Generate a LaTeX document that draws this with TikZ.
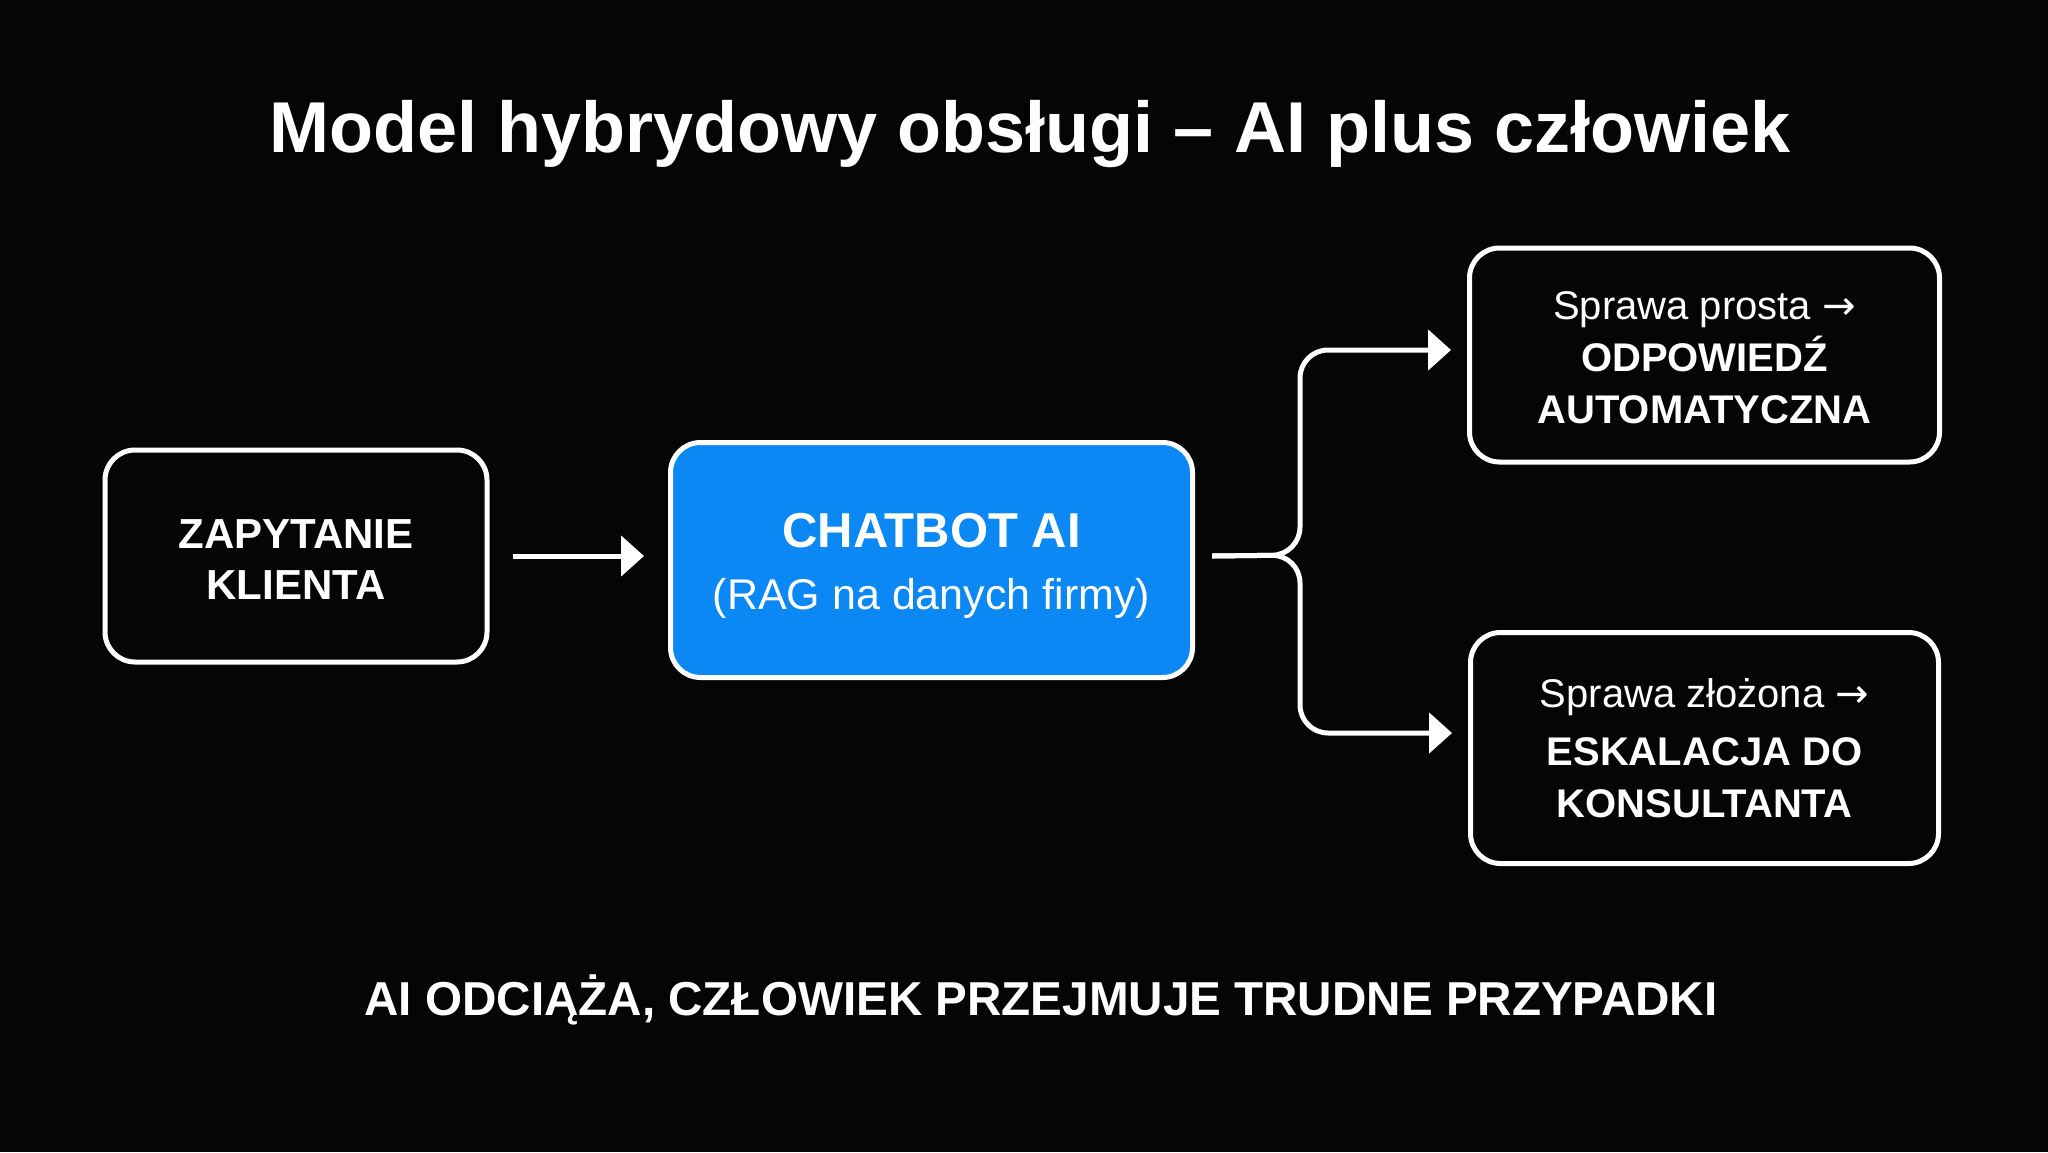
\documentclass[tikz,border=0pt]{standalone}
\usepackage{fontspec}
\setmainfont{Liberation Sans}
\newfontfamily\arrowfont{DejaVu Sans}
\usetikzlibrary{arrows.meta}
\definecolor{bg}{RGB}{5,5,5}
\definecolor{chatblue}{RGB}{12,136,244}
\tikzset{
  box/.style={draw=white, line width=2.5pt, rounded corners=15pt, inner sep=0pt},
  lbl/.style={align=center, text=white, inner sep=0pt},
  conn/.style={draw=white, line width=2.5pt, -{Triangle[length=11.5pt,width=20pt]}},
}
\newcommand{\rarr}{{\arrowfont\char"2192}}
\begin{document}
\begin{tikzpicture}[x=0.5pt, y=-0.5pt]
\fill[bg] (0,0) rectangle (2048,1152);
\useasboundingbox (0,0) rectangle (2048,1152);

\node[lbl, font=\fontsize{36}{42}\selectfont\bfseries] (title) at (1030,134) {Model hybrydowy obsługi – AI plus człowiek};

\node[box, minimum width=191pt, minimum height=106pt] (q) at (296,556) {};
\node[lbl, font=\fontsize{21}{25.5}\selectfont\bfseries] (qtext) at ([yshift=-2pt]q.center)
  {ZAPYTANIE\\KLIENTA};

\node[box, fill=chatblue, minimum width=261pt, minimum height=117.5pt] (chat) at (931.5,560) {};
\node[lbl, font=\fontsize{21.5}{31}\selectfont] (chattext) at ([yshift=-3pt]chat.center)
  {{\fontsize{24.5}{31}\selectfont\bfseries CHATBOT AI}\\(RAG na danych firmy)};

\node[box, minimum width=235pt, minimum height=107pt] (simple) at (1704.5,355) {};
\node[lbl, font=\fontsize{20}{26}\selectfont] (simpletext) at ([yshift=-1.5pt]simple.center)
  {Sprawa prosta \rarr\\ \textbf{ODPOWIEDŹ}\\ \textbf{AUTOMATYCZNA}};

\node[box, minimum width=234pt, minimum height=115.5pt] (complex) at (1704.5,748) {};
\node[lbl, font=\fontsize{20}{26}\selectfont] (complextext) at (complex.center)
  {Sprawa złożona \rarr\\[3pt] \textbf{ESKALACJA DO}\\ \textbf{KONSULTANTA}};

\node[lbl, font=\fontsize{23.8}{28}\selectfont\bfseries] (foot) at (1041,1000) {AI ODCIĄŻA, CZŁOWIEK PRZEJMUJE TRUDNE PRZYPADKI};

\coordinate (qa) at ([xshift=11.5pt]q.east);
\coordinate (ca) at ([xshift=-12pt]chat.west |- qa);
\draw[conn] (qa) -- (ca);

\coordinate (split) at ([xshift=8.5pt]chat.east |- qa);
\coordinate (t1) at ([xshift=-8pt]simple.west |- 1400,350);
\coordinate (t2) at ([xshift=-8pt]complex.west |- 1400,733);
\draw[conn, rounded corners=14pt] (split) -- (1300,555) -- (1300,350) -- (t1);
\draw[conn, rounded corners=14pt] (split) -- (1300,555) -- (1300,733) -- (t2);
\end{tikzpicture}
\end{document}
